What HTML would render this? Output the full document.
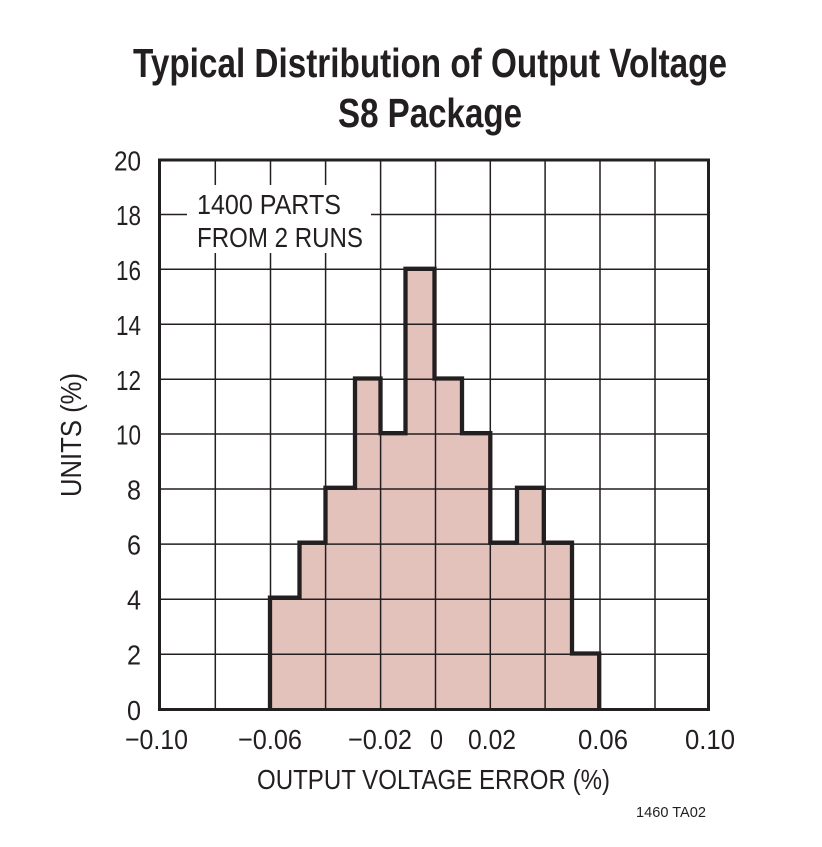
<!DOCTYPE html>
<html><head><meta charset="utf-8"><style>
html,body{margin:0;padding:0;background:#fff;}
svg{display:block;}
text{font-family:"Liberation Sans",sans-serif;fill:#231f20;}
</style></head><body>
<svg width="822" height="847" viewBox="0 0 822 847" xmlns="http://www.w3.org/2000/svg">
<rect width="822" height="847" fill="#fff"/>
<!-- Title -->
<text x="133" y="77" font-size="41" font-weight="bold" textLength="594" lengthAdjust="spacingAndGlyphs">Typical Distribution of Output Voltage</text>
<text x="338" y="127" font-size="41" font-weight="bold" textLength="184" lengthAdjust="spacingAndGlyphs">S8 Package</text>

<!-- Histogram fill -->
<polygon fill="#e4c2bc" stroke="none" points="270,709.5 270,597.6 299.5,597.6 299.5,542.7 325.5,542.7 325.5,487.8 355,487.8 355,378.5 380.5,378.5 380.5,433.2 405.5,433.2 405.5,268.8 434.5,268.8 434.5,378.5 462,378.5 462,433.2 490.3,433.2 490.3,542.7 517,542.7 517,487.8 543.8,487.8 543.8,542.7 572,542.7 572,653.5 599.2,653.5 599.2,709.5"/>

<!-- Grid -->
<g stroke="#231f20" stroke-width="1.5">
<line x1="215.3" y1="160" x2="215.3" y2="710"/>
<line x1="270.5" y1="160" x2="270.5" y2="710"/>
<line x1="325.6" y1="160" x2="325.6" y2="710"/>
<line x1="380.6" y1="160" x2="380.6" y2="710"/>
<line x1="435.5" y1="160" x2="435.5" y2="710"/>
<line x1="490.3" y1="160" x2="490.3" y2="710"/>
<line x1="545.1" y1="160" x2="545.1" y2="710"/>
<line x1="600" y1="160" x2="600" y2="710"/>
<line x1="655" y1="160" x2="655" y2="710"/>
<line x1="160" y1="654.2" x2="709" y2="654.2"/>
<line x1="160" y1="599.2" x2="709" y2="599.2"/>
<line x1="160" y1="544.1" x2="709" y2="544.1"/>
<line x1="160" y1="489" x2="709" y2="489"/>
<line x1="160" y1="434" x2="709" y2="434"/>
<line x1="160" y1="379.3" x2="709" y2="379.3"/>
<line x1="160" y1="324.2" x2="709" y2="324.2"/>
<line x1="160" y1="269.3" x2="709" y2="269.3"/>
<line x1="160" y1="214.5" x2="709" y2="214.5"/>
</g>

<!-- Annotation mask -->
<rect x="187" y="185" width="184" height="68" fill="#fff"/>
<text x="197" y="214" font-size="28" textLength="144" lengthAdjust="spacingAndGlyphs">1400 PARTS</text>
<text x="197" y="247" font-size="28" textLength="166" lengthAdjust="spacingAndGlyphs">FROM 2 RUNS</text>

<!-- Histogram outline -->
<polyline fill="none" stroke="#231f20" stroke-width="4.3" stroke-linejoin="miter" points="270,709.5 270,597.6 299.5,597.6 299.5,542.7 325.5,542.7 325.5,487.8 355,487.8 355,378.5 380.5,378.5 380.5,433.2 405.5,433.2 405.5,268.8 434.5,268.8 434.5,378.5 462,378.5 462,433.2 490.3,433.2 490.3,542.7 517,542.7 517,487.8 543.8,487.8 543.8,542.7 572,542.7 572,653.5 599.2,653.5 599.2,709.5"/>

<!-- Border -->
<rect x="159.5" y="160" width="549" height="549.5" fill="none" stroke="#231f20" stroke-width="3"/>

<!-- Y tick labels -->
<g font-size="28" text-anchor="end">
<text x="141" y="170.5" textLength="27" lengthAdjust="spacingAndGlyphs">20</text>
<text x="141" y="225" textLength="25" lengthAdjust="spacingAndGlyphs">18</text>
<text x="141" y="280" textLength="25" lengthAdjust="spacingAndGlyphs">16</text>
<text x="141" y="335" textLength="25" lengthAdjust="spacingAndGlyphs">14</text>
<text x="141" y="390" textLength="25" lengthAdjust="spacingAndGlyphs">12</text>
<text x="141" y="444.5" textLength="25" lengthAdjust="spacingAndGlyphs">10</text>
<text x="141" y="499.5" textLength="14" lengthAdjust="spacingAndGlyphs">8</text>
<text x="141" y="554.5" textLength="14" lengthAdjust="spacingAndGlyphs">6</text>
<text x="141" y="609.5" textLength="14" lengthAdjust="spacingAndGlyphs">4</text>
<text x="141" y="664.5" textLength="14" lengthAdjust="spacingAndGlyphs">2</text>
<text x="141" y="720" textLength="14" lengthAdjust="spacingAndGlyphs">0</text>
</g>

<!-- X tick labels -->
<g font-size="28" text-anchor="middle">
<text x="156.5" y="749" textLength="63" lengthAdjust="spacingAndGlyphs">−0.10</text>
<text x="270" y="749" textLength="64" lengthAdjust="spacingAndGlyphs">−0.06</text>
<text x="380" y="749" textLength="64" lengthAdjust="spacingAndGlyphs">−0.02</text>
<text x="436.5" y="749" textLength="13" lengthAdjust="spacingAndGlyphs">0</text>
<text x="492" y="749" textLength="48" lengthAdjust="spacingAndGlyphs">0.02</text>
<text x="603" y="749" textLength="50" lengthAdjust="spacingAndGlyphs">0.06</text>
<text x="710" y="749" textLength="50" lengthAdjust="spacingAndGlyphs">0.10</text>
</g>

<!-- Axis titles -->
<text x="257" y="789" font-size="28" textLength="353" lengthAdjust="spacingAndGlyphs">OUTPUT VOLTAGE ERROR (%)</text>
<text transform="translate(81,435) rotate(-90)" x="0" y="0" font-size="29" text-anchor="middle" textLength="124" lengthAdjust="spacingAndGlyphs">UNITS (%)</text>

<!-- Figure id -->
<text x="636" y="817" font-size="15" textLength="70" lengthAdjust="spacingAndGlyphs">1460 TA02</text>
</svg>
</body></html>
